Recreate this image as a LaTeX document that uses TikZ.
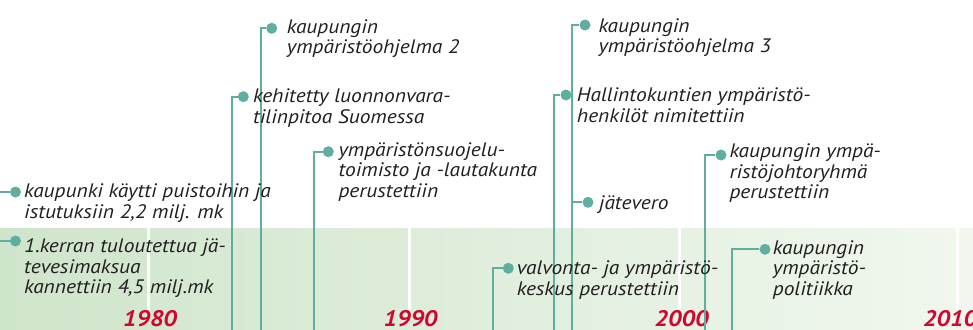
\documentclass[tikz,border=0pt]{standalone}
\usepackage{fontspec}
\setmainfont{PT Sans}[FakeStretch=1.1]
\definecolor{teal1}{HTML}{5FAE9F}
\definecolor{txt}{HTML}{231F20}
\definecolor{yr}{HTML}{D0062F}
\definecolor{bandL}{HTML}{CFE5CB}
\definecolor{bandR}{HTML}{F1F7EE}
\tikzset{
  conn/.style={draw=teal1, line width=2pt},
  dotn/.style={circle, fill=teal1, inner sep=0pt, minimum size=11pt},
  lbl/.style={anchor=base west, align=left, inner sep=0pt, text=txt,
    font=\fontsize{19.5}{20.5}\selectfont\itshape},
  yearlbl/.style={anchor=base, inner sep=0pt, text=yr,
    font=\fontsize{22.5}{24}\selectfont\bfseries\itshape},
  sep/.style={draw=white, line width=3pt}
}
\begin{document}
\begin{tikzpicture}[x=1pt,y=-1pt]
\useasboundingbox (0,0) rectangle (973,329);
\clip (0,0) rectangle (973,329);
% background band
\shade[left color=bandL, right color=bandR] (0,228) rectangle (973,329);
\draw[sep] (148,228) -- (148,310);
\draw[sep] (409,228) -- (409,310);
\draw[sep] (679,228) -- (679,310);
\draw[sep] (957,228) -- (957,310);
% year labels
\node[yearlbl] (y1980) at (150,326.5) {1980};
\node[yearlbl] (y1990) at (410.5,326.5) {1990};
\node[yearlbl] (y2000) at (681.5,326.5) {2000};
\node[yearlbl] (y2010) at (950,326.5) {2010};
% connector start points
\coordinate (l1) at (0,192);
\coordinate (l2) at (0,241);
\coordinate (b3) at (232,330);
\coordinate (b4) at (260.5,330);
\coordinate (b5) at (314,330);
\coordinate (b6) at (572.3,330);
\coordinate (b7) at (554,330);
\coordinate (b9) at (705,330);
\coordinate (b10) at (492.7,330);
\coordinate (b11) at (732.3,330);
% dots
\node[dotn] (d1) at (15.5,192) {};
\node[dotn] (d2) at (15.5,241) {};
\node[dotn] (d3) at (243.3,96.7) {};
\node[dotn] (d4) at (271.7,28.3) {};
\node[dotn] (d5) at (328.3,151.7) {};
\node[dotn] (d6) at (585,25) {};
\node[dotn] (d7) at (566,95) {};
\node[dotn] (d8) at (588,202.3) {};
\node[dotn] (d9) at (721,155) {};
\node[dotn] (d10) at (508.3,268.3) {};
\node[dotn] (d11) at (765,249.3) {};
% connectors
\draw[conn] (l1) -- (d1);
\draw[conn] (l2) -- (d2);
\draw[conn] (b3) |- (d3);
\draw[conn] (b4) |- (d4);
\draw[conn] (b5) |- (d5);
\draw[conn] (b6) |- (d6);
\draw[conn] (b7) |- (d7);
\draw[conn] (b6 |- d8) -- (d8);
\draw[conn] (b9) |- (d9);
\draw[conn] (b10) |- (d10);
\draw[conn] (b11) |- (d11);
% texts (anchor = baseline of last line)
\node[lbl] (t1) at (24,218) {kaupunki käytti puistoihin ja\\istutuksiin 2,2 milj. mk};
\node[lbl] (t2) at (24,293.5) {1.kerran tuloutettua jä-\\tevesimaksua\\kannettiin 4,5 milj.mk};
\node[lbl] (t3) at (253,123) {kehitetty luonnonvara-\\tilinpitoa Suomessa};
\node[lbl] (t4) at (286.7,53.5) {kaupungin\\ympäristöohjelma 2};
\node[lbl] (t5) at (338.3,197) {ympäristönsuojelu-\\toimisto ja -lautakunta\\perustettiin};
\node[lbl] (t6) at (598.3,52.5) {kaupungin\\ympäristöohjelma 3};
\node[lbl] (t7) at (576.7,122) {Hallintokuntien ympäristö-\\henkilöt nimitettiin};
\node[lbl] (t8) at (599,209) {jätevero};
\node[lbl] (t9) at (729.3,198.5) {kaupungin ympä-\\ristöjohtoryhmä\\perustettiin};
\node[lbl] (t10) at (516.7,295) {valvonta- ja ympäristö-\\keskus perustettiin};
\node[lbl] (t11) at (772.7,295) {kaupungin\\ympäristö-\\politiikka};
\end{tikzpicture}
\end{document}
